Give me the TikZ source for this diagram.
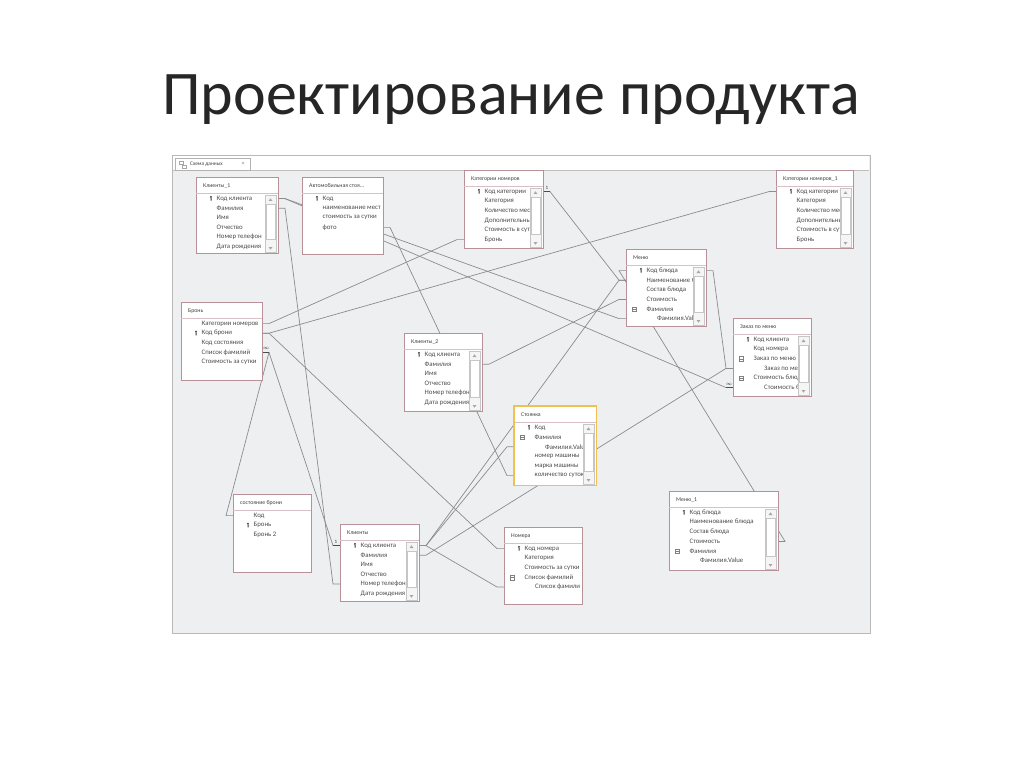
\documentclass[tikz,border=0pt]{standalone}
\usepackage{fontspec}
\setmainfont{Carlito}
\usepackage{tikz}
\usetikzlibrary{calc}

\definecolor{tblborder}{HTML}{B89098}
\definecolor{tblsep}{HTML}{D8C0C4}
\definecolor{relline}{HTML}{8C8C8C}
\definecolor{selborder}{HTML}{F0C050}
\definecolor{selrow}{HTML}{F8C4CA}
\definecolor{panelbg}{HTML}{EEEFF1}

\pgfdeclarelayer{panel}
\pgfdeclarelayer{lines}
\pgfsetlayers{panel,lines,main}

\def\tagk{k}\def\tagn{n}\def\tagp{p}\def\tagi{i}

% one table of the data scheme: id, x, y, width, height, title, scrollbar, fields
\newcommand\dbtab[8]{%
  \node[dbbox, minimum width=#4, minimum height=#5, anchor=north west] (#1) at (#2,#3) {};
  \begin{scope}
    \clip (#2,#3) rectangle ++(#4,#5);
    \node[dbtitle] (#1-t) at (#2+7,#3+9) {#6};
    \draw[dbsep] (#2,#3+16) -- ++(#4,0);
    \foreach \t/\f [count=\i] in {#8} {
      \coordinate (#1-l\i) at (#2,#3+12+9.6*\i);
      \coordinate (#1-r\i) at (#2+#4,#3+12+9.6*\i);
      \ifx\t\tagk
        \fill[black!80] (#2+15,#3+10.5+9.6*\i) circle (1.2) (#2+14.6,#3+10.5+9.6*\i) rectangle ++(0.9,3.6);
        \node[dbfield] (#1-f\i) at (#2+20.5,#3+12+9.6*\i) {\f};
      \fi
      \ifx\t\tagn \node[dbfield] (#1-f\i) at (#2+20.5,#3+12+9.6*\i) {\f};\fi
      \ifx\t\tagp
        \draw[gray, line width=0.3pt] (#2+6,#3+9.7+9.6*\i) rectangle ++(4.6,4.6)
          (#2+7,#3+12+9.6*\i) -- ++(2.6,0);
        \node[dbfield] (#1-f\i) at (#2+20.5,#3+12+9.6*\i) {\f};
      \fi
      \ifx\t\tagi \node[dbfield] (#1-f\i) at (#2+31,#3+12+9.6*\i) {\f};\fi
    }
  \end{scope}
  \ifnum#7=1
    \draw[gray!45, fill=gray!8, line width=0.3pt] (#2+#4-13,#3+18) rectangle (#2+#4-2,#3+#5-1);
    \draw[gray!45, fill=white, line width=0.3pt] (#2+#4-12,#3+27) rectangle (#2+#4-3,#3+#5-14);
    \fill[gray!70] (#2+#4-9.5,#3+24) -- ++(2,-2.6) -- ++(2,2.6) -- cycle;
    \fill[gray!70] (#2+#4-9.5,#3+#5-6) -- ++(2,2.6) -- ++(2,-2.6) -- cycle;
  \fi
}

\begin{document}
\begin{tikzpicture}[x=1pt,y=-1pt]
  \tikzstyle{dbbox}=[draw=tblborder, fill=white, line width=0.6pt, inner sep=0pt]
  \tikzstyle{dbtitle}=[anchor=west, inner sep=0pt, font=\fontsize{5.8}{6}\selectfont, text=black!75]
  \tikzstyle{dbfield}=[anchor=west, inner sep=0pt, font=\fontsize{6.8}{7}\selectfont, text=black!70]
  \tikzstyle{dbsep}=[draw=tblsep, line width=0.5pt]
  \tikzstyle{rel}=[draw=relline, line width=0.7pt]
  \tikzstyle{relend}=[draw=black!70, line width=1.3pt]
  \tikzstyle{relmark}=[inner sep=0pt, font=\fontsize{5}{5}\selectfont, text=black!80]

  \useasboundingbox (0,0) rectangle (1024,767);

  \node[font=\fontsize{62}{70}\selectfont, text=black!85] (title) at (511,100) {Проектирование продукта};

  % tables
  \dbtab{kl1}{196}{177}{82}{76}{Клиенты\_1}{1}{k/Код клиента,n/Фамилия,n/Имя,n/Отчество,n/Номер телефон,n/Дата рождения}
  \dbtab{avto}{302}{177}{81}{77}{Автомобильная стоя...}{0}{k/Код,n/наименование мест,n/стоимость за сутки,n/фото}
  \dbtab{katn}{464}{170}{79}{78}{Категории номеров}{1}{k/Код категории,n/Категория,n/Количество мест,n/Дополнительные,n/Стоимость в сут,n/Бронь}
  \dbtab{katn1}{776}{170}{77}{78}{Категории номеров\_1}{1}{k/Код категории,n/Категория,n/Количество мест,n/Дополнительные,n/Стоимость в сут,n/Бронь}
  \dbtab{menu}{626}{249}{80}{77}{Меню}{1}{k/Код блюда,n/Наименование б,n/Состав блюда,n/Стоимость,p/Фамилия,i/Фамилия.Value}
  \dbtab{bron}{181}{302}{81}{78}{Бронь}{0}{n/Категории номеров,k/Код брони,n/Код состояния,n/Список фамилий,n/Стоимость за сутки}
  \dbtab{kl2}{404}{333}{78}{78}{Клиенты\_2}{1}{k/Код клиента,n/Фамилия,n/Имя,n/Отчество,n/Номер телефон,n/Дата рождения}
  \dbtab{zakaz}{733}{318}{78}{78}{Заказ по меню}{1}{k/Код клиента,n/Код номера,p/Заказ по меню,i/Заказ по мен,p/Стоимость блюд,i/Стоимость бл}
  \dbtab{sost}{233}{494}{78}{78}{состояние брони}{0}{n/Код,k/Бронь,n/Бронь 2}
  \dbtab{kl}{340}{524}{79}{77}{Клиенты}{1}{k/Код клиента,n/Фамилия,n/Имя,n/Отчество,n/Номер телефон,n/Дата рождения}
  \dbtab{nomera}{504}{527}{78}{77}{Номера}{0}{k/Код номера,n/Категория,n/Стоимость за сутки,p/Список фамилий,i/Список фамили}
  \dbtab{menu1}{669}{491}{109}{79}{Меню\_1}{1}{k/Код блюда,n/Наименование блюда,n/Состав блюда,n/Стоимость,p/Фамилия,i/Фамилия.Value}

  % the selected table
  \dbtab{stoy}{514}{406}{82}{79}{Стоянка}{1}{k/Код,p/Фамилия,i/Фамилия.Value,n/номер машины,n/марка машины,n/количество суток}
  \begin{pgfonlayer}{lines}
    \fill[selrow] (517,423.5) rectangle (583,432);
  \end{pgfonlayer}
  \draw[selborder, line width=1.3pt] (stoy.north west) rectangle (stoy.south east);

  % the window with the data scheme
  \begin{pgfonlayer}{panel}
    \fill[white] (0,0) rectangle (1024,767);
    \draw[gray!55, fill=panelbg, line width=0.6pt] (172,155) rectangle (870,633);
    \fill[white] (173,156) rectangle (869,170);
    \draw[gray!50, line width=0.4pt] (173,170) -- (869,170);
    \draw[gray!60, fill=white, line width=0.4pt] (175,158) -- (175,170) -- (250,170) -- (250,158) -- cycle;
    \draw[gray!70, line width=0.4pt] (179,161) rectangle ++(4,3) (182,165) rectangle ++(4,3);
    \node[anchor=west, inner sep=0pt, font=\fontsize{5.4}{6}\selectfont, text=black!75] (tab) at (190,164) {Схема данных};
    \node[inner sep=0pt, font=\fontsize{6}{6}\selectfont, text=gray] (tabx) at (243,164) {×};
  \end{pgfonlayer}

  % relationships, behind the tables
  \begin{pgfonlayer}{lines}
    \draw[rel] (kl1-r1) -- ++(7,0) -- ($(menu-l6)+(-7,0)$) -- (menu-l6);
    \draw[rel] (kl1-r1) -- ++(7,0) -- ($(zakaz-l6)+(-7,0)$) -- (zakaz-l6);
    \draw[rel] (kl1-r2) -- ++(7,0) -- ($(kl-l5)+(-7,0)$) -- (kl-l5);
    \draw[rel] (bron-r1) -- ++(7,0) -- ($(katn-l6)+(-7,0)$) -- (katn-l6);
    \draw[rel] (bron-r2) -- ++(7,0) -- ($(katn1-l1)+(-7,0)$) -- (katn1-l1);
    \draw[rel] (bron-r2) -- ++(7,0) -- ($(nomera-l1)+(-7,0)$) -- (nomera-l1);
    \draw[rel] (bron-r4) -- ++(7,0) -- ($(kl-l1)+(-7,0)$) -- (kl-l1);
    \draw[rel] (bron-r4) -- ++(7,0) -- ($(sost-l1)+(-7,0)$) -- (sost-l1);
    \draw[rel] (avto-r4) -- ++(7,0) -- ($(stoy-l6)+(-7,0)$) -- (stoy-l6);
    \draw[rel] (katn-r1) -- ++(7,0) -- ($(menu-l2)+(-7,0)$) -- (menu-l2);
    \draw[rel] (menu-r1) -- ++(7,0) -- ($(zakaz-l4)+(-7,0)$) -- (zakaz-l4);
    \draw[rel] (kl2-r2) -- ++(7,0) -- ($(menu-l4)+(-7,0)$) -- (menu-l4);
    \draw[rel] (kl-r1) -- ++(7,0) -- ($(menu-l2)+(-7,0)$) -- (menu-l2);
    \draw[rel] (kl-r1) -- ++(7,0) -- ($(stoy-l3)+(-7,0)$) -- (stoy-l3);
    \draw[rel] (kl-r2) -- ++(7,0) -- ($(zakaz-l4)+(-7,0)$) -- (zakaz-l4);
    \draw[rel] (kl-r1) -- ++(7,0) -- ($(nomera-l5)+(-7,0)$) -- (nomera-l5);
    \draw[rel] (menu-l1) -- ++(-7,0) -- ($(menu1-r4)+(7,0)$) -- (menu1-r4);
    % ends with referential integrity
    \draw[relend] (katn-r1) -- ++(7,0);
    \draw[relend] (kl-l1) -- ++(-7,0);
    \draw[relend] (bron-r4) -- ++(7,0);
    \draw[relend] (zakaz-l6) -- ++(-7,0);
  \end{pgfonlayer}
  \node[relmark] (m1) at ($(katn-r1)+(4,-3.5)$) {1};
  \node[relmark] (m2) at ($(kl-l1)+(-4,-3.5)$) {1};
  \node[relmark] (m3) at ($(bron-r4)+(4,-3.5)$) {$\infty$};
  \node[relmark] (m4) at ($(zakaz-l6)+(-4,-3.5)$) {$\infty$};
\end{tikzpicture}
\end{document}
